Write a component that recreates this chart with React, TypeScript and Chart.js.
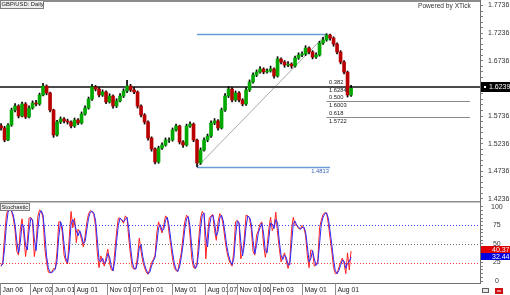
import React, { useEffect, useRef } from 'react';
import { Chart, registerables } from 'chart.js';
Chart.register(...registerables);

const FONT = '"Liberation Sans", Arial, sans-serif';

// ---- price data (one sample per candle step) ----
const firstOpen = 1.556;
const closes = [
  1.5519, 1.5302, 1.5573, 1.5845, 1.5917, 1.5736, 1.5954, 1.5718, 1.5881, 1.5972,
  1.5954, 1.6116, 1.6279, 1.6153, 1.5845, 1.5393, 1.5628, 1.5682, 1.5646, 1.5628,
  1.5555, 1.5664, 1.561, 1.5772, 1.5881, 1.6044, 1.6261, 1.6225, 1.6116, 1.6171,
  1.599, 1.6098, 1.5917, 1.6008, 1.6098, 1.6189, 1.6279, 1.6207, 1.6171, 1.5917,
  1.5754, 1.5628, 1.5338, 1.5139, 1.4904, 1.5157, 1.5212, 1.5302, 1.5302, 1.5483,
  1.5555, 1.5266, 1.5212, 1.5555, 1.5591, 1.5302, 1.4886, 1.5121, 1.5302, 1.5374,
  1.561, 1.5646, 1.5519, 1.5845, 1.6098, 1.6225, 1.6026, 1.6153, 1.6026, 1.5954,
  1.6207, 1.6352, 1.6478, 1.6533, 1.6587, 1.6533, 1.6551, 1.6587, 1.646, 1.6768,
  1.6714, 1.6659, 1.6677, 1.6641, 1.6786, 1.684, 1.6858, 1.6967, 1.6895, 1.6804,
  1.684, 1.7057, 1.7112, 1.7202, 1.7148, 1.7039, 1.6895, 1.6714, 1.653, 1.6116,
  1.6239,
];
const highs = [
  1.56, 1.555, 1.56, 1.588, 1.596, 1.594, 1.599, 1.598, 1.592, 1.601,
  1.602, 1.615, 1.633, 1.63, 1.617, 1.586, 1.566, 1.572, 1.571, 1.568,
  1.565, 1.57, 1.569, 1.581, 1.592, 1.608, 1.631, 1.629, 1.625, 1.621,
  1.619, 1.614, 1.612, 1.605, 1.614, 1.623, 1.638, 1.631, 1.625, 1.619,
  1.594, 1.578, 1.565, 1.536, 1.516, 1.519, 1.525, 1.534, 1.534, 1.552,
  1.559, 1.557, 1.529, 1.559, 1.563, 1.561, 1.532, 1.516, 1.534, 1.541,
  1.565, 1.569, 1.567, 1.588, 1.614, 1.627, 1.625, 1.619, 1.618, 1.605,
  1.625, 1.639, 1.652, 1.657, 1.663, 1.661, 1.659, 1.664, 1.661, 1.681,
  1.679, 1.674, 1.672, 1.67, 1.682, 1.688, 1.69, 1.701, 1.699, 1.692,
  1.688, 1.709, 1.716, 1.7225, 1.722, 1.717, 1.706, 1.692, 1.674, 1.655,
  1.629,
];
const lows = [
  1.548, 1.527, 1.529, 1.555, 1.581, 1.57, 1.572, 1.569, 1.57, 1.586,
  1.592, 1.593, 1.61, 1.612, 1.581, 1.535, 1.537, 1.56, 1.561, 1.559,
  1.552, 1.553, 1.558, 1.559, 1.575, 1.586, 1.602, 1.619, 1.608, 1.609,
  1.596, 1.597, 1.588, 1.589, 1.599, 1.607, 1.616, 1.618, 1.614, 1.588,
  1.572, 1.559, 1.53, 1.51, 1.487, 1.488, 1.513, 1.519, 1.526, 1.528,
  1.546, 1.523, 1.517, 1.519, 1.553, 1.527, 1.4813, 1.486, 1.51, 1.527,
  1.535, 1.558, 1.548, 1.55, 1.582, 1.607, 1.599, 1.6, 1.599, 1.592,
  1.593, 1.618, 1.633, 1.645, 1.651, 1.65, 1.651, 1.653, 1.642, 1.644,
  1.668, 1.662, 1.663, 1.66, 1.662, 1.676, 1.681, 1.683, 1.686, 1.677,
  1.678, 1.682, 1.703, 1.709, 1.711, 1.7, 1.686, 1.668, 1.65, 1.608,
  1.609,
];

// ---- stochastic (%K and %D at half-candle steps) ----
const stochK = [
  20, 26, 60, 88, 98, 97, 94, 85, 68, 40,
  35, 70, 84, 63, 33, 52, 85, 86, 81, 33,
  49, 87, 96, 94, 85, 44, 25, 12, 11, 12,
  17, 16, 40, 80, 80, 66, 35, 27, 23, 60,
  94, 72, 85, 52, 70, 66, 56, 46, 60, 79,
  91, 95, 94, 90, 74, 38, 18, 34, 28, 20,
  32, 43, 24, 15, 14, 40, 66, 85, 85, 82,
  78, 88, 85, 57, 35, 18, 16, 17, 34, 58,
  40, 26, 18, 12, 9, 16, 25, 29, 35, 65,
  80, 72, 65, 76, 88, 85, 65, 48, 30, 18,
  14, 13, 26, 38, 60, 80, 89, 86, 60, 30,
  18, 17, 25, 58, 85, 94, 90, 30, 63, 85,
  88, 90, 68, 55, 80, 91, 87, 75, 55, 40,
  30, 24, 20, 40, 80, 82, 77, 30, 38, 58,
  89, 88, 85, 70, 40, 35, 62, 68, 77, 80,
  50, 32, 45, 70, 86, 68, 74, 93, 65, 44,
  26, 33, 38, 27, 17, 28, 70, 86, 76, 75,
  71, 70, 75, 72, 62, 35, 18, 42, 41, 20,
  22, 27, 72, 82, 90, 92, 92, 78, 58, 40,
  18, 10, 10, 18, 25, 31, 24, 10, 38, 15,
  40.37,
];
const stochD = [
  20, 23, 43, 74, 93, 97, 95, 89, 76, 54,
  38, 52, 77, 73, 48, 42, 68, 85, 83, 57,
  41, 68, 91, 95, 89, 64, 34, 18, 12, 11,
  14, 16, 28, 60, 80, 73, 50, 31, 25, 41,
  77, 83, 78, 68, 61, 68, 61, 51, 53, 69,
  85, 93, 94, 92, 82, 56, 28, 26, 31, 24,
  26, 37, 33, 20, 14, 27, 53, 75, 85, 83,
  80, 83, 86, 71, 46, 26, 17, 16, 25, 46,
  49, 33, 22, 15, 10, 12, 20, 27, 32, 50,
  72, 76, 68, 70, 82, 86, 75, 56, 39, 24,
  16, 13, 19, 32, 49, 70, 84, 87, 73, 45,
  24, 17, 21, 41, 71, 89, 92, 60, 46, 74,
  86, 89, 79, 61, 67, 85, 89, 81, 65, 47,
  35, 27, 22, 30, 60, 81, 79, 53, 34, 48,
  73, 88, 86, 77, 55, 37, 48, 65, 72, 78,
  65, 41, 38, 57, 78, 77, 71, 83, 79, 54,
  35, 29, 35, 32, 22, 22, 49, 78, 81, 75,
  73, 70, 72, 73, 67, 48, 26, 30, 41, 30,
  21, 24, 50, 77, 86, 91, 92, 85, 68, 49,
  29, 14, 10, 14, 21, 28, 27, 17, 24, 26,
  32.44,
];

// ---- axis labels ----
const priceMajors = [1.4236, 1.4736, 1.5236, 1.5736, 1.6236, 1.6736, 1.7236, 1.7736];
const stochMajors = [0, 25, 50, 75, 100];
const dateLabels = ['Jan 06', 'Apr 02', 'Jun 01', 'Aug 01', 'Nov 01', '07', 'Feb 01', 'May 01', 'Aug 01', '07', 'Nov 01', '06', 'Feb 03', 'May 01', 'Aug 01'];
const datePos = [-0.3, 8.27, 14.56, 20.84, 30.27, 36.84, 39.7, 48.84, 58.27, 64.56, 67.41, 74.0, 76.84, 86.0, 95.4];

// ---- drawing tools / annotations ----
const currentPrice = '1.6239';
const supportLevel = 1.6265;
const swingLow = 1.4813;
const swingHigh = 1.7222;
const swingLowIdx = 56;
const swingHighIdx = 93;
const fibRatios = ['0.382', '0.500', '0.618'];
const fibPrices = [1.6284, 1.6003, 1.5722];
const fibEndIdx = 134;
const lastK = '40.37';
const lastD = '32.44';

const X_MIN = -0.3;
const X_MAX = 136.84;
const GREEN = '#00a800';
const RED = '#b80000';

function hline(ctx: any, x1: number, x2: number, y: number) {
  ctx.beginPath();
  ctx.moveTo(x1, y);
  ctx.lineTo(x2, y);
  ctx.stroke();
}

const mainOverlay = {
  id: 'mainOverlay',
  beforeDatasetsDraw(chart: any) {
    const { ctx, chartArea: a, scales } = chart;
    const x = scales.x, y = scales.y;
    ctx.save();
    ctx.strokeStyle = '#8c8c8c';
    ctx.lineWidth = 2;
    hline(ctx, a.left, a.right, 1);
    ctx.strokeStyle = '#8a8a8a';
    ctx.lineWidth = 1;
    fibPrices.forEach((p) => {
      const py = Math.round(y.getPixelForValue(p)) + 0.5;
      hline(ctx, x.getPixelForValue(swingHighIdx), x.getPixelForValue(fibEndIdx), py);
    });
    ctx.strokeStyle = '#a8a8a8';
    ctx.beginPath();
    ctx.moveTo(x.getPixelForValue(swingLowIdx), y.getPixelForValue(swingLow));
    ctx.lineTo(x.getPixelForValue(swingHighIdx), y.getPixelForValue(swingHigh));
    ctx.stroke();
    ctx.strokeStyle = '#6b9ad6';
    ctx.lineWidth = 1.3;
    hline(ctx, x.getPixelForValue(swingLowIdx), x.getPixelForValue(swingHighIdx + 0.3), Math.round(y.getPixelForValue(swingHigh)) + 0.5);
    hline(ctx, x.getPixelForValue(swingLowIdx), x.getPixelForValue(swingHighIdx + 1), Math.round(y.getPixelForValue(swingLow)) + 0.5);
    ctx.strokeStyle = '#4a4a4a';
    ctx.lineWidth = 2;
    hline(ctx, a.left, a.right, Math.round(y.getPixelForValue(supportLevel)));
    ctx.restore();
  },
  afterDraw(chart: any) {
    const { ctx, chartArea: a, scales } = chart;
    const x = scales.x, y = scales.y;
    ctx.save();
    ctx.fillStyle = '#eeeeee';
    ctx.fillRect(0, 0, 44, 9);
    ctx.strokeStyle = '#808080';
    ctx.lineWidth = 1;
    ctx.strokeRect(0.5, 0.5, 43, 8);
    ctx.fillStyle = '#222';
    ctx.font = `5.8px ${FONT}`;
    ctx.textBaseline = 'middle';
    ctx.textAlign = 'left';
    ctx.fillText('GBP/USD: Daily', 1.5, 4.8);
    ctx.font = `6.6px ${FONT}`;
    ctx.fillStyle = '#333';
    ctx.fillText('Powered by XTick', 418, 6.5);
    ctx.font = `5.8px ${FONT}`;
    const lx = x.getPixelForValue(swingHighIdx + 0.7);
    fibPrices.forEach((p, k) => {
      const py = y.getPixelForValue(p);
      ctx.fillStyle = '#222';
      ctx.textBaseline = 'bottom';
      ctx.fillText(fibRatios[k], lx, py - 0.5);
      ctx.textBaseline = 'top';
      ctx.fillText(p.toFixed(4), lx, py + 1.5);
    });
    ctx.fillStyle = '#3a66b8';
    ctx.textAlign = 'right';
    ctx.textBaseline = 'top';
    ctx.fillText(swingLow.toFixed(4), x.getPixelForValue(swingHighIdx + 0.7), y.getPixelForValue(swingLow) + 1.5);
    const cy = Math.round(y.getPixelForValue(supportLevel));
    ctx.fillStyle = '#000';
    ctx.fillRect(a.right + 1, cy - 5, 30, 10);
    ctx.fillStyle = '#fff';
    ctx.fillRect(a.right + 4, cy - 1, 2, 2);
    ctx.font = `7px ${FONT}`;
    ctx.textAlign = 'left';
    ctx.textBaseline = 'middle';
    ctx.fillText(currentPrice, a.right + 9, cy + 0.5);
    ctx.restore();
  },
};

const stochOverlay = {
  id: 'stochOverlay',
  beforeDatasetsDraw(chart: any) {
    const { ctx, chartArea: a, scales } = chart;
    const y = scales.y;
    ctx.save();
    ctx.strokeStyle = '#8c8c8c';
    ctx.lineWidth = 1.5;
    hline(ctx, a.left, a.right, 0.75);
    ctx.lineWidth = 1;
    ctx.setLineDash([1, 2]);
    const levels: [number, string][] = [[75, '#3c3cff'], [50, '#707070'], [25, '#ff3c3c']];
    levels.forEach(([v, c]) => {
      ctx.strokeStyle = c;
      hline(ctx, a.left, a.right, Math.round(y.getPixelForValue(v)) + 0.5);
    });
    ctx.restore();
  },
  afterDraw(chart: any) {
    const { ctx, chartArea: a, scales, height } = chart;
    const x = scales.x, y = scales.y;
    ctx.save();
    ctx.strokeStyle = '#707070';
    ctx.lineWidth = 1;
    hline(ctx, a.left, a.right + 1, a.bottom + 0.5);
    ctx.font = `6.8px ${FONT}`;
    ctx.fillStyle = '#222';
    ctx.textAlign = 'left';
    ctx.textBaseline = 'middle';
    dateLabels.forEach((lab, k) => {
      const px = Math.round(x.getPixelForValue(datePos[k])) + 0.5;
      ctx.strokeStyle = '#8c8c8c';
      ctx.beginPath();
      ctx.moveTo(px, a.bottom);
      ctx.lineTo(px, height);
      ctx.stroke();
      ctx.fillText(lab, px + 2, a.bottom + 7);
    });
    ctx.fillStyle = '#eeeeee';
    ctx.fillRect(0, 2, 30, 8);
    ctx.strokeStyle = '#808080';
    ctx.strokeRect(0.5, 2.5, 29, 7);
    ctx.fillStyle = '#222';
    ctx.font = `5.8px ${FONT}`;
    ctx.fillText('Stochastic', 1.5, 6.3);
    const ky = y.getPixelForValue(parseFloat(lastK));
    const top = Math.round(ky - 5);
    ctx.fillStyle = '#e00000';
    ctx.fillRect(a.right + 1, top, 30, 7);
    ctx.fillStyle = '#0000e0';
    ctx.fillRect(a.right + 1, top + 7, 30, 7);
    ctx.fillStyle = '#fff';
    ctx.font = `7px ${FONT}`;
    ctx.textAlign = 'left';
    ctx.fillText(lastK, a.right + 12, top + 3.8);
    ctx.fillText(lastD, a.right + 12, top + 10.8);
    ctx.strokeStyle = '#606060';
    ctx.fillStyle = '#e8e8e8';
    ctx.fillRect(482, height - 7, 7, 5);
    ctx.strokeRect(482.5, height - 6.5, 6, 4);
    ctx.fillStyle = '#d01010';
    ctx.fillRect(495, height - 7, 8, 6);
    ctx.fillStyle = '#fff';
    ctx.fillRect(497, height - 4.5, 4, 1);
    ctx.restore();
  },
};

export default function App() {
  const mainRef = useRef<HTMLCanvasElement>(null);
  const stochRef = useRef<HTMLCanvasElement>(null);

  useEffect(() => {
    document.body.style.margin = '0';
    Chart.defaults.font.family = FONT;

    const opens = closes.map((c, i) => (i === 0 ? firstOpen : closes[i - 1]));
    const bodyData = closes.map((c, i) => ({ x: i, y: [opens[i], c] }));
    const wickData = closes.map((c, i) => ({ x: i, y: [lows[i], highs[i]] }));
    const bodyColors = closes.map((c, i) => (c >= opens[i] ? GREEN : RED));

    const priceTicks: number[] = [];
    for (let m = 0; m < priceMajors.length; m++) {
      for (let s = 0; s < 5; s++) {
        if (m === priceMajors.length - 1 && s > 0) break;
        priceTicks.push(priceMajors[m] + s * 0.01);
      }
    }
    const stochTicks: number[] = [];
    for (let v = 0; v <= 100; v += 5) stochTicks.push(v);

    const main = new Chart(mainRef.current as any, {
      type: 'bar',
      data: {
        datasets: [
          { data: bodyData as any, backgroundColor: bodyColors, barThickness: 3, grouped: false, borderWidth: 0 } as any,
          { data: wickData as any, backgroundColor: '#000', barThickness: 1, grouped: false, borderWidth: 0 } as any,
        ],
      },
      options: {
        animation: false,
        responsive: false,
        devicePixelRatio: 1,
        layout: { padding: 0 },
        plugins: { legend: { display: false }, tooltip: { enabled: false } },
        scales: {
          x: { type: 'linear', min: X_MIN, max: X_MAX, display: false, offset: false },
          y: {
            position: 'right',
            min: 1.4198,
            max: 1.7836,
            afterBuildTicks: (s: any) => {
              s.ticks = priceTicks.map((v) => ({ value: v }));
            },
            afterFit: (s: any) => {
              s.width = 30;
              s.paddingTop = 0;
              s.paddingBottom = 0;
            },
            ticks: {
              autoSkip: false,
              padding: 5,
              color: '#333',
              font: { size: 7, family: FONT },
              callback: (v: any) => {
                const m = priceMajors.find((p) => Math.abs(p - v) < 1e-6);
                return m !== undefined ? m.toFixed(4) : '';
              },
            },
            grid: { display: true, drawOnChartArea: false, drawTicks: true, tickLength: 3, color: '#808080' },
            border: { display: true, color: '#707070' },
          },
        },
      } as any,
      plugins: [mainOverlay],
    });

    const stoch = new Chart(stochRef.current as any, {
      type: 'line',
      data: {
        datasets: [
          { data: stochD.map((v, j) => ({ x: j / 2, y: v })), borderColor: '#2a2aff', borderWidth: 1, pointRadius: 0, tension: 0 },
          { data: stochK.map((v, j) => ({ x: j / 2, y: v })), borderColor: '#ff2020', borderWidth: 1, pointRadius: 0, tension: 0 },
        ],
      },
      options: {
        animation: false,
        responsive: false,
        devicePixelRatio: 1,
        layout: { padding: { bottom: 12 } },
        plugins: { legend: { display: false }, tooltip: { enabled: false } },
        scales: {
          x: { type: 'linear', min: X_MIN, max: X_MAX, display: false, offset: false },
          y: {
            position: 'right',
            min: -2.7,
            max: 108.1,
            afterBuildTicks: (s: any) => {
              s.ticks = stochTicks.map((v) => ({ value: v }));
            },
            afterFit: (s: any) => {
              s.width = 30;
              s.paddingTop = 0;
              s.paddingBottom = 0;
            },
            ticks: {
              autoSkip: false,
              padding: 8,
              crossAlign: 'center',
              color: '#333',
              font: { size: 7, family: FONT },
              callback: (v: any) => (stochMajors.includes(v) ? String(v) : ''),
            },
            grid: { display: true, drawOnChartArea: false, drawTicks: true, tickLength: 3, color: '#808080' },
            border: { display: true, color: '#707070' },
          },
        },
      } as any,
      plugins: [stochOverlay],
    });

    return () => {
      main.destroy();
      stoch.destroy();
    };
  }, []);

  return (
    <div style={{ position: 'fixed', left: 0, top: 0, width: 510, height: 295, background: '#fff' }}>
      <canvas ref={mainRef} width={510} height={201} style={{ position: 'absolute', left: 0, top: 0, width: 510, height: 201 }} />
      <canvas ref={stochRef} width={510} height={94} style={{ position: 'absolute', left: 0, top: 201, width: 510, height: 94 }} />
    </div>
  );
}
